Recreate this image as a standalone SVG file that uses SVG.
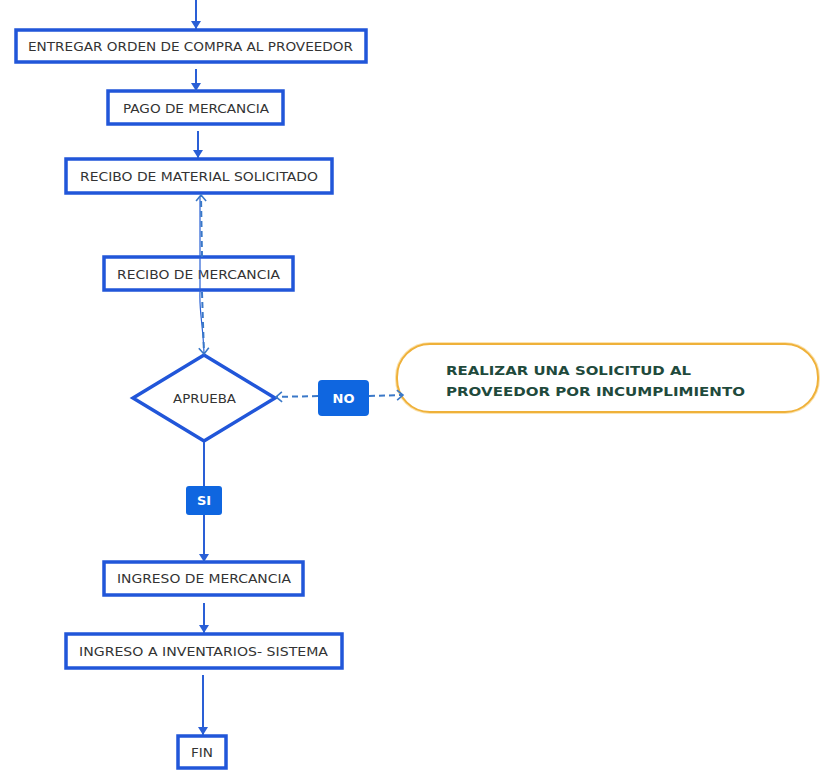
<svg xmlns="http://www.w3.org/2000/svg" width="821" height="772" viewBox="0 0 821 772">
<defs>
<marker id="ah" markerUnits="userSpaceOnUse" markerWidth="10" markerHeight="10" refX="8" refY="5" orient="auto">
<path d="M0,0 L8,5 L0,10 z" fill="#2a5fd6"/>
</marker>
<marker id="chev" markerUnits="userSpaceOnUse" markerWidth="10" markerHeight="12" refX="7" refY="6" orient="auto">
<path d="M1,1 L7,6 L1,11" fill="none" stroke="#3a78c8" stroke-width="1.6"/>
</marker>
</defs>
<style>
.box{fill:#fff;stroke:#2156d9;stroke-width:3.5}
.t{font-family:"DejaVu Sans",Verdana,sans-serif;font-size:12.5px;fill:#333;text-anchor:middle;dominant-baseline:central}
.ln{fill:none;stroke:#2a5fd6;stroke-width:2}
.dash{fill:none;stroke:#3a78c8;stroke-width:2;stroke-dasharray:6 4}
.thin{fill:none;stroke:#2a62d6;stroke-width:1.2}
.lbl{fill:#0f66e0}
.lt{font-family:"DejaVu Sans",Verdana,sans-serif;font-size:13px;font-weight:bold;fill:#fff;text-anchor:middle;dominant-baseline:central}
.gt{font-family:"DejaVu Sans",Verdana,sans-serif;font-size:13px;font-weight:bold;fill:#1f4a3c}
</style>
<rect width="821" height="772" fill="#fff"/>
<g id="n1"><rect class="box" x="16" y="30" width="350" height="32"/><text class="t" x="190.5" y="46" textLength="325" lengthAdjust="spacingAndGlyphs">ENTREGAR ORDEN DE COMPRA AL PROVEEDOR</text></g>
<g id="n2"><rect class="box" x="108" y="91" width="175" height="33"/><text class="t" x="196" y="108" textLength="146" lengthAdjust="spacingAndGlyphs">PAGO DE MERCANCIA</text></g>
<g id="n3"><rect class="box" x="66" y="159" width="266" height="34"/><text class="t" x="199" y="176" textLength="238" lengthAdjust="spacingAndGlyphs">RECIBO DE MATERIAL SOLICITADO</text></g>
<g id="n4"><rect class="box" x="104" y="257" width="189" height="33"/><text class="t" x="198.5" y="274" textLength="163" lengthAdjust="spacingAndGlyphs">RECIBO DE MERCANCIA</text></g>
<g id="n5"><polygon class="box" points="204,355 275,398 204,441 133,398"/><text class="t" x="204.5" y="398" textLength="63" lengthAdjust="spacingAndGlyphs">APRUEBA</text></g>
<g id="n6"><rect x="397" y="344" width="421" height="68" rx="33" fill="none" stroke="#fbe3b0" stroke-width="4"/><rect x="397" y="344" width="421" height="68" rx="33" fill="#fff" stroke="#efb13a" stroke-width="2"/>
<text class="gt" x="446" y="375" textLength="245" lengthAdjust="spacingAndGlyphs">REALIZAR UNA SOLICITUD AL</text>
<text class="gt" x="446" y="396" textLength="299" lengthAdjust="spacingAndGlyphs">PROVEEDOR POR INCUMPLIMIENTO</text></g>
<g id="n7"><rect class="box" x="104" y="562" width="199" height="33"/><text class="t" x="204" y="578.5" textLength="174" lengthAdjust="spacingAndGlyphs">INGRESO DE MERCANCIA</text></g>
<g id="n8"><rect class="box" x="66" y="634" width="276" height="34"/><text class="t" x="203.5" y="651" textLength="249" lengthAdjust="spacingAndGlyphs">INGRESO A INVENTARIOS- SISTEMA</text></g>
<g id="n9"><rect class="box" x="178" y="736" width="48" height="32"/><text class="t" x="202" y="752" textLength="22" lengthAdjust="spacingAndGlyphs">FIN</text></g>
<g id="connectors">
<line class="ln" x1="196" y1="0" x2="196" y2="29" marker-end="url(#ah)"/>
<line class="ln" x1="196" y1="69" x2="196" y2="91" marker-end="url(#ah)"/>
<line class="ln" x1="198" y1="131" x2="198" y2="158" marker-end="url(#ah)"/>
<path class="thin" d="M200,196 L200,292 C199,310 203,325 204,353"/>
<line class="dash" x1="202" y1="257" x2="201" y2="195" marker-end="url(#chev)"/>
<line class="dash" x1="202" y1="292" x2="204" y2="354" marker-end="url(#chev)"/>
<line class="dash" x1="318" y1="396" x2="276" y2="397" marker-end="url(#chev)"/>
<line class="dash" x1="369" y1="396" x2="403" y2="395" marker-end="url(#chev)"/>
<line class="ln" x1="204" y1="442" x2="204" y2="562" marker-end="url(#ah)"/>
<line class="ln" x1="204" y1="603" x2="204" y2="633" marker-end="url(#ah)"/>
<line class="ln" x1="203" y1="675" x2="203" y2="735" marker-end="url(#ah)"/>
<g id="label-no"><rect class="lbl" x="318" y="380" width="51" height="36" rx="4"/><text class="lt" x="343.5" y="398">NO</text></g>
<g id="label-si"><rect class="lbl" x="186" y="486" width="36" height="29" rx="3"/><text class="lt" x="204" y="500.5">SI</text></g>
</g>
</svg>
